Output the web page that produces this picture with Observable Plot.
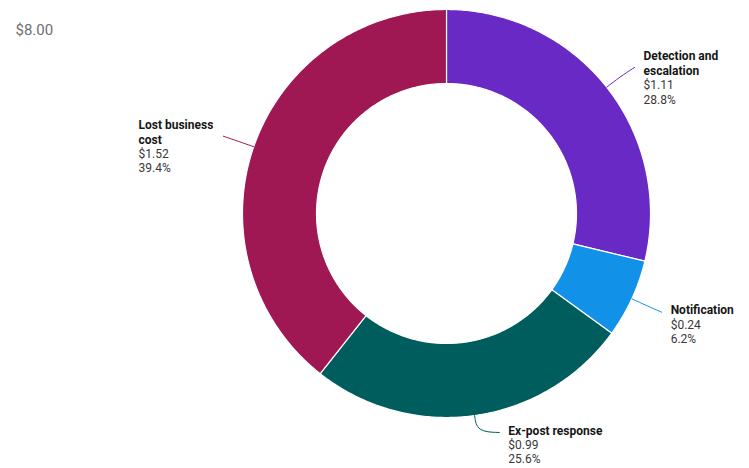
<!DOCTYPE html>
<html><head><meta charset="utf-8">
<script src="https://cdn.jsdelivr.net/npm/d3@7"></script>
<script src="https://cdn.jsdelivr.net/npm/@observablehq/plot@0.6"></script>
<style>
html,body{margin:0;padding:0;background:#fff;}
#chart svg{display:block;}
</style></head><body><div id="chart"></div>
<script>
// ---- data ----
const categories = ["Detection and escalation", "Notification", "Ex-post response", "Lost business cost"];
const values = [1.11, 0.24, 0.99, 1.52];
const colors = ["#6929c4", "#1192e8", "#005d5d", "#9f1853"];
const cornerLabel = ["$8.00"];

// ---- layout ----
const W = 749, H = 468, CX = 446, CY = 213, R = 204, INNER = 130 / 204;
const FONT = "Roboto, 'Noto Sans', sans-serif";
const FS = 12, LH = 1.2;

const total = d3.sum(values);
let acc = 0;
const slices = categories.map((c, i) => {
  const a0 = acc / total * 2 * Math.PI; acc += values[i];
  const a1 = acc / total * 2 * Math.PI;
  return {c, v: values[i], a0, a1, mid: (a0 + a1) / 2, pct: values[i] / total * 100};
});

// ring polygons in unit coords (x right, y up, angle clockwise from top)
const ring = [];
for (const s of slices) {
  const n = Math.max(8, Math.ceil((s.a1 - s.a0) / 0.01));
  const pts = [];
  for (let k = 0; k <= n; k++) { const a = s.a0 + (s.a1 - s.a0) * k / n; pts.push([Math.sin(a), Math.cos(a)]); }
  for (let k = n; k >= 0; k--) { const a = s.a0 + (s.a1 - s.a0) * k / n; pts.push([INNER * Math.sin(a), INNER * Math.cos(a)]); }
  pts.push(pts[0]);
  pts.forEach(p => ring.push({c: s.c, x: p[0], y: p[1]}));
}

function wrap(t, max) {
  const words = t.split(" "); const lines = []; let cur = "";
  for (const w of words) {
    if (!cur) cur = w;
    else if ((cur + " " + w).length <= max) cur += " " + w;
    else { lines.push(cur); cur = w; }
  }
  if (cur) lines.push(cur);
  return lines;
}
const ctx = document.createElement("canvas").getContext("2d");
function measure(lines, weight) {
  ctx.font = `${weight} ${FS}px ${FONT}`;
  return d3.max(lines, l => ctx.measureText(l).width);
}

// leaders and labels
const yMin = (CY - (H - 36)) / R;
const leaders = [], labels = [];
for (const s of slices) {
  const sx = Math.sin(s.mid), cy = Math.cos(s.mid);
  const side = sx >= 0 ? 1 : -1;
  const bend = [1.08 * sx, 1.08 * cy];
  const ey0 = 1.157 * cy;
  const ey = Math.max(ey0, yMin);
  const overflowPx = (ey - ey0) * R;
  const ex = bend[0] + side * (15 + overflowPx * 0.5) / R;
  leaders.push({c: s.c, x: sx, y: cy}, {c: s.c, x: bend[0], y: bend[1]}, {c: s.c, x: ex, y: ey});
  const title = wrap(s.c, 16);
  const valueStr = "$" + s.v.toFixed(2), pctStr = s.pct.toFixed(1) + "%";
  const endPx = CY - ey * R;
  const baseline = endPx + 2 - (title.length - 1) * 9;
  const topPx = baseline - 0.71 * LH * FS;
  const blockW = Math.max(measure(title, "bold"), measure([valueStr, pctStr], "normal"));
  const leftPx = side > 0 ? (CX + ex * R + 9) : (CX + ex * R - 10 - blockW);
  labels.push({
    c: s.c,
    x: (leftPx - CX) / R,
    y: (CY - topPx) / R,
    title: title.join("\n"),
    detail: "\n".repeat(title.length) + valueStr + "\n" + pctStr
  });
}

const tOpts = {x: "x", y: "y", fontSize: FS, lineHeight: LH, lineAnchor: "top", textAnchor: "start"};

const chart = Plot.plot({
  width: W, height: H,
  margin: 0,
  style: {fontFamily: FONT, background: "#fff"},
  x: {domain: [-CX / R, (W - CX) / R], axis: null},
  y: {domain: [-(H - CY) / R, CY / R], axis: null},
  color: {domain: categories, range: colors},
  marks: [
    Plot.line(ring, {x: "x", y: "y", z: "c", fill: "c", stroke: "white", strokeWidth: 1.2, curve: "linear"}),
    Plot.line(leaders, {x: "x", y: "y", z: "c", stroke: "c", strokeWidth: 1, curve: "basis"}),
    Plot.text(cornerLabel, {text: d => d, frameAnchor: "top-left", dx: 15, dy: 24, fontSize: 15, fill: "#6f6f6f"}),
    Plot.text(labels, {...tOpts, text: "title", fontWeight: "bold", fill: "#161616"}),
    Plot.text(labels, {...tOpts, text: "detail", fill: "#393939"})
  ]
});
document.getElementById("chart").appendChild(chart);
</script>
</body></html>
